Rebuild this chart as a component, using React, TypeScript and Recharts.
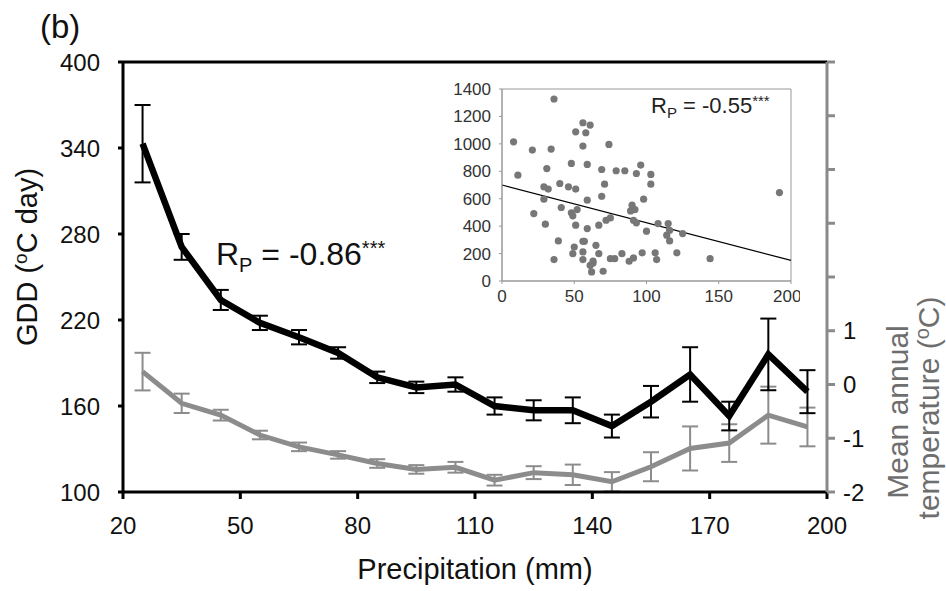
import {
  ComposedChart,
  Line,
  XAxis,
  YAxis,
  ErrorBar,
  ReferenceLine,
  ReferenceArea,
  ScatterChart,
  Scatter,
} from "recharts";

const FONT = "'Liberation Sans', Arial, sans-serif";

// main panel: precipitation bins
const precip = [25, 35, 45, 55, 65, 75, 85, 95, 105, 115, 125, 135, 145, 155, 165, 175, 185, 195];
const gdd = [343, 271, 234, 218, 208, 197, 180, 173, 175, 160, 157, 157, 146, 163, 182, 153, 196, 170];
const gddErr = [27, 9, 7, 5, 5, 4, 4, 4, 5, 6, 7, 9, 8, 11, 19, 10, 25, 15];
const temp = [0.24, -0.35, -0.57, -0.94, -1.16, -1.31, -1.47, -1.58, -1.54, -1.78, -1.64, -1.68, -1.81, -1.53, -1.19, -1.09, -0.57, -0.79];
const tempErr = [0.35, 0.18, 0.1, 0.08, 0.08, 0.07, 0.08, 0.08, 0.1, 0.1, 0.12, 0.19, 0.18, 0.27, 0.41, 0.35, 0.53, 0.36];

const xTicks = [20, 50, 80, 110, 140, 170, 200];
const gddTicks = [100, 160, 220, 280, 340, 400];
const tempTicks = [-2, -1, 0, 1, 2, 3, 4, 5, 6];
const tempLabelled = [-2, -1, 0, 1];

// inset: individual sites
const siteX = [8, 11, 21, 22, 29, 29, 30, 31, 32, 34, 36, 36, 39, 40, 41, 46, 48, 48, 49, 49, 50, 51, 51, 51, 52, 56, 56, 56, 56, 57, 56, 58, 59, 59, 59, 61, 61, 62, 63, 63, 65, 67, 67, 69, 69, 70, 71, 72, 74, 75, 75, 78, 79, 83, 85, 88, 89, 90, 91, 91, 92, 93, 93, 96, 97, 98, 100, 103, 103, 106, 107, 108, 114, 115, 116, 116, 121, 125, 144, 192];
const siteY = [1015, 772, 955, 492, 597, 687, 414, 820, 670, 962, 1327, 156, 292, 711, 536, 687, 857, 497, 475, 200, 248, 1088, 670, 407, 521, 984, 1154, 212, 290, 290, 156, 1081, 850, 589, 382, 1137, 114, 66, 146, 131, 260, 200, 407, 813, 618, 71, 706, 443, 996, 460, 163, 163, 804, 200, 804, 144, 511, 553, 168, 443, 521, 784, 424, 845, 205, 597, 363, 777, 706, 205, 156, 419, 334, 419, 292, 370, 205, 346, 163, 645];
const trendX = [0, 200];
const trendY = [700, 150];
const insetXTicks = [0, 50, 100, 150, 200];
const insetYTicks = [0, 200, 400, 600, 800, 1000, 1200, 1400];

const mainData = precip.map((p, i) => ({
  p,
  gdd: gdd[i],
  gddErr: gddErr[i],
  temp: temp[i],
  tempErr: tempErr[i],
}));

const siteData = siteX.map((x, i) => ({ x, y: siteY[i] }));

function Inset() {
  return (
    <div style={{ position: "absolute", left: 440, top: 75 }}>
      <ScatterChart
        width={360}
        height={240}
        margin={{ top: 14, right: 9, bottom: 10, left: 12 }}
      >
        <XAxis
          type="number"
          dataKey="x"
          domain={[0, 200]}
          ticks={insetXTicks}
          stroke="#999"
          tickSize={3}
          height={24}
          tickMargin={6}
          tick={{ fill: "#333", fontSize: 17, fontFamily: FONT }}
        />
        <YAxis
          type="number"
          dataKey="y"
          domain={[0, 1400]}
          ticks={insetYTicks}
          stroke="#999"
          tickSize={3}
          width={50}
          tickMargin={8}
          tick={{ fill: "#333", fontSize: 17, fontFamily: FONT }}
        />
        <ReferenceArea
          x1={0}
          x2={200}
          y1={0}
          y2={1400}
          fill="none"
          stroke="#999"
          strokeWidth={1}
        />
        <ReferenceLine
          segment={[
            { x: trendX[0], y: trendY[0] },
            { x: trendX[1], y: trendY[1] },
          ]}
          stroke="#000"
          strokeWidth={1.2}
        />
        <Scatter
          data={siteData}
          fill="#777"
          shape={(props: any) => (
            <circle cx={props.cx} cy={props.cy} r={3.6} fill="#777" />
          )}
          isAnimationActive={false}
        />
        <text x={651} y={113} fontSize={22} fontFamily={FONT} fill="#222" transform="translate(-440,-75)">
          R
          <tspan fontSize={15} dy={5}>P</tspan>
          <tspan dy={-5}> = -0.55</tspan>
          <tspan fontSize={15} dy={-7}>***</tspan>
        </text>
      </ScatterChart>
    </div>
  );
}

export default function App() {
  return (
    <div style={{ position: "absolute", left: 0, top: 0, width: 946, height: 591, background: "#fff" }}>
      <ComposedChart
        width={946}
        height={591}
        data={mainData}
        margin={{ top: 62, right: 59, bottom: 49, left: 60 }}
      >
        <XAxis
          type="number"
          dataKey="p"
          domain={[20, 200]}
          ticks={xTicks}
          stroke="#000"
          strokeWidth={3}
          tickSize={7}
          tickMargin={18}
          height={50}
          tick={{ fill: "#111", fontSize: 24, fontFamily: FONT }}
        />
        <YAxis
          yAxisId="gdd"
          domain={[100, 400]}
          ticks={gddTicks}
          stroke="#000"
          strokeWidth={3}
          tickSize={5}
          tickMargin={18}
          width={63}
          tick={{ fill: "#111", fontSize: 24, fontFamily: FONT }}
        />
        <YAxis
          yAxisId="temp"
          orientation="right"
          domain={[-2, 6]}
          ticks={tempTicks}
          stroke="#8a8a8a"
          strokeWidth={3}
          tickSize={8}
          tickMargin={8}
          width={60}
          tickFormatter={(v: number) => (tempLabelled.includes(v) ? String(v) : "")}
          tick={{ fill: "#111", fontSize: 24, fontFamily: FONT }}
        />
        <ReferenceLine yAxisId="gdd" y={400} stroke="#000" strokeWidth={3} />

        <Line
          yAxisId="temp"
          dataKey="temp"
          stroke="#8c8c8c"
          strokeWidth={5}
          dot={false}
          type="linear"
          isAnimationActive={false}
        >
          <ErrorBar dataKey="tempErr" width={8} stroke="#8c8c8c" strokeWidth={2} direction="y" />
        </Line>
        <Line
          yAxisId="gdd"
          dataKey="gdd"
          stroke="#000"
          strokeWidth={6.5}
          dot={false}
          type="linear"
          isAnimationActive={false}
        >
          <ErrorBar dataKey="gddErr" width={8} stroke="#000" strokeWidth={2} direction="y" />
        </Line>

        <text x={40} y={38} fontSize={33} fontFamily={FONT} fill="#111">(b)</text>
        <text
          x={37}
          y={257}
          fontSize={29}
          fontFamily={FONT}
          fill="#111"
          textAnchor="middle"
          transform="rotate(-90, 37, 257)"
        >
          GDD (
          <tspan fontSize={19} dy={-10}>o</tspan>
          <tspan dy={10}>C day)</tspan>
        </text>
        <text
          x={908}
          y={412}
          fontSize={30}
          fontFamily={FONT}
          fill="#6e6e6e"
          textAnchor="middle"
          transform="rotate(-90, 908, 412)"
        >
          Mean annual
        </text>
        <text
          x={939}
          y={408}
          fontSize={30}
          fontFamily={FONT}
          fill="#6e6e6e"
          textAnchor="middle"
          transform="rotate(-90, 939, 408)"
        >
          temperature (
          <tspan fontSize={20} dy={-10}>o</tspan>
          <tspan dy={10}>C)</tspan>
        </text>
        <text x={475} y={579} fontSize={29} fontFamily={FONT} fill="#111" textAnchor="middle">
          Precipitation (mm)
        </text>
        <text x={216} y={265} fontSize={32} fontFamily={FONT} fill="#111">
          R
          <tspan fontSize={20} dy={7}>P</tspan>
          <tspan dy={-7}> = -0.86</tspan>
          <tspan fontSize={20} dy={-10}>***</tspan>
        </text>
      </ComposedChart>
      <Inset />
    </div>
  );
}
